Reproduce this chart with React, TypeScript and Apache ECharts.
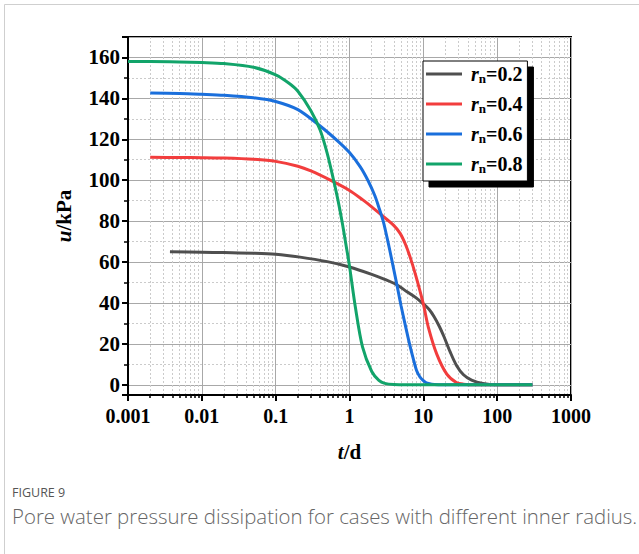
import React, { useEffect, useRef } from 'react';
import * as echarts from 'echarts';

// ---- data (t in days, u in kPa) ----
const seriesNames = ['rn=0.2', 'rn=0.4', 'rn=0.6', 'rn=0.8'];
const seriesLabels = ['0.2', '0.4', '0.6', '0.8'];
const seriesColors = ['#4f4f4f', '#f23d3d', '#1a6fdc', '#12a46a'];

const t02 = [0.0037, 0.01, 0.02, 0.05, 0.1, 0.214, 0.5, 1, 2, 3, 4.35, 6, 8, 10, 12, 14, 16.5, 19, 23, 28, 35, 45, 64, 100, 300];
const u02 = [65, 64.8, 64.6, 64.3, 63.8, 62.4, 60.2, 57.6, 54, 51.5, 48.9, 45.5, 42.5, 39.5, 36.8, 33.3, 28.5, 23.6, 16.2, 9.6, 4.9, 2.3, 0.6, 0, 0];

const t04 = [0.002, 0.005, 0.01, 0.02, 0.05, 0.1, 0.2, 0.3, 0.55, 1, 1.5, 2, 2.86, 4, 4.85, 5.7, 6.62, 7.78, 10, 11.7, 15.2, 20.8, 28, 35, 50, 100, 300];
const u04 = [111.2, 111.1, 111, 110.8, 110.2, 109.2, 106.8, 104.5, 100, 95, 90.5, 87, 82.3, 77.8, 74, 68.8, 62.4, 54.2, 39.5, 28.1, 15, 5.2, 1.1, 0.3, 0, 0, 0];

const t06 = [0.002, 0.005, 0.01, 0.02, 0.05, 0.1, 0.2, 0.4, 0.7, 1, 1.4, 1.8, 2.2, 2.5, 2.86, 3.2, 3.5, 4.35, 5, 6, 6.6, 7.3, 8.1, 9, 10, 11, 13, 16, 20, 50, 300];
const u06 = [142.6, 142.4, 142, 141.5, 140.3, 138.5, 134.5, 126.5, 119, 113.5, 106.5, 99.5, 92.5, 86.7, 80, 72.5, 66, 49.5, 38.5, 25.5, 19, 12.8, 7, 3.8, 2, 0.9, 0.3, 0.05, 0, 0, 0];

const t08 = [0.001, 0.002, 0.005, 0.01, 0.02, 0.05, 0.1, 0.15, 0.2, 0.3, 0.4, 0.5, 0.6, 0.7, 0.8, 0.9, 1, 1.2, 1.5, 2, 2.5, 3, 4, 6, 10, 30, 100, 300];
const u08 = [158, 158, 157.8, 157.5, 157, 155.2, 151.5, 147.5, 143.5, 134, 124.5, 113, 101, 90, 79, 68, 58, 38, 18.5, 6.5, 2.2, 0.7, 0.1, 0, 0, 0, 0, 0];

const tSets = [t02, t04, t06, t08];
const uSets = [u02, u04, u06, u08];

const xTickLabels = ['0.001', '0.01', '0.1', '1', '10', '100', '1000'];
const yTickLabels = ['0', '20', '40', '60', '80', '100', '120', '140', '160'];
const minorMultipliers = [2, 3, 4, 5, 6, 7, 8, 9];
const decades = [0.001, 0.01, 0.1, 1, 10, 100];

const serif = "'Liberation Serif', 'Times New Roman', serif";
const sans = "'Open Sans', 'Noto Sans', sans-serif";

export default function App() {
  const ref = useRef<HTMLDivElement>(null);

  useEffect(() => {
    const chart = echarts.init(ref.current!, null, { renderer: 'svg' });

    const minorX: number[] = [];
    decades.forEach((d) => minorMultipliers.forEach((m) => minorX.push(Number((d * m).toPrecision(6)))));

    const fmtX = (v: number) => {
      const s = String(Number(Number(v).toPrecision(6)));
      return xTickLabels.includes(s) ? s : '';
    };
    const fmtY = (v: number) => (yTickLabels.includes(String(v)) ? String(v) : '');

    const legendRich = {
      i: { fontFamily: serif, fontStyle: 'italic', fontWeight: 'bold', fontSize: 20, lineHeight: 22, color: '#000', padding: [0, 0, 0, 4] },
      s: { fontFamily: serif, fontWeight: 'bold', fontSize: 13, lineHeight: 13, verticalAlign: 'bottom', color: '#000' },
      b: { fontFamily: serif, fontWeight: 'bold', fontSize: 20, lineHeight: 22, color: '#000' },
    };

    chart.setOption({
      animation: false,
      backgroundColor: '#fff',
      grid: {
        left: 128, top: 37, right: 68, bottom: 159,
        show: true, borderColor: '#000', borderWidth: 2, backgroundColor: 'transparent',
      },
      xAxis: [
        {
          type: 'log', logBase: 10, min: 0.001, max: 1000, splitNumber: 6, position: 'bottom',
          axisLine: { show: true, onZero: false, lineStyle: { color: '#000', width: 2 } },
          axisTick: { show: true, inside: false, length: 6, lineStyle: { color: '#000', width: 2 } },
          axisLabel: { margin: 11, fontFamily: serif, fontWeight: 'bold', fontSize: 20, color: '#000', formatter: fmtX },
          splitLine: { show: true, lineStyle: { color: '#a8a8a8', width: 1 } },
          name: '{i|t}{b|/d}', nameLocation: 'middle', nameGap: 46,
          nameTextStyle: {
            rich: {
              i: { fontFamily: serif, fontStyle: 'italic', fontWeight: 'bold', fontSize: 21, color: '#000' },
              b: { fontFamily: serif, fontWeight: 'bold', fontSize: 21, color: '#000' },
            },
          },
        },
        {
          type: 'log', logBase: 10, min: 0.001, max: 1000, position: 'bottom',
          axisLine: { show: false, onZero: false },
          axisTick: { show: true, inside: false, length: 3, customValues: minorX, lineStyle: { color: '#000', width: 1.5 } },
          axisLabel: { show: false },
          splitLine: { show: true, lineStyle: { color: '#cbcbcb', width: 1, type: [2, 2] } },
        },
      ],
      yAxis: [
        {
          type: 'value', min: -5, max: 170, splitNumber: 9, position: 'left',
          axisLine: { show: true, onZero: false, lineStyle: { color: '#000', width: 2 } },
          axisTick: { show: true, inside: false, length: 6, lineStyle: { color: '#000', width: 2 } },
          minorTick: { show: true, splitNumber: 2, length: 4, lineStyle: { color: '#000', width: 1.5 } },
          minorSplitLine: { show: true, lineStyle: { color: '#cbcbcb', width: 1, type: [2, 2] } },
          splitLine: { show: true, lineStyle: { color: '#a8a8a8', width: 1 } },
          axisLabel: { margin: 8, fontFamily: serif, fontWeight: 'bold', fontSize: 21, color: '#000', formatter: fmtY },
          name: '{i|u}{b|/kPa}', nameLocation: 'middle', nameGap: 54, nameRotate: 90,
          nameTextStyle: {
            rich: {
              i: { fontFamily: serif, fontStyle: 'italic', fontWeight: 'bold', fontSize: 21, color: '#000' },
              b: { fontFamily: serif, fontWeight: 'bold', fontSize: 21, color: '#000' },
            },
          },
        },
      ],
      legend: {
        orient: 'vertical', left: 423, top: 61,
        itemWidth: 36, itemHeight: 3, icon: 'rect', itemGap: 9,
        padding: [3, 5, 6, 3],
        backgroundColor: '#fff', borderColor: '#000', borderWidth: 1,
        shadowColor: '#000', shadowBlur: 0, shadowOffsetX: 6, shadowOffsetY: 6,
        z: 10,
        data: seriesNames,
        formatter: (name: string) => {
          const idx = seriesNames.indexOf(name);
          return `{i|r}{s|n}{b|=${seriesLabels[idx]}}`;
        },
        textStyle: { rich: legendRich },
      },
      graphic: [
        { type: 'line', silent: true, shape: { x1: 4.5, y1: 4.5, x2: 639, y2: 4.5 }, style: { stroke: '#cfcfcf', lineWidth: 1 } },
        { type: 'line', silent: true, shape: { x1: 4.5, y1: 4.5, x2: 4.5, y2: 554 }, style: { stroke: '#cfcfcf', lineWidth: 1 } },
        { type: 'text', left: 12, top: 486, style: { text: 'FIGURE 9', fontSize: 12.5, fill: '#555', fontFamily: sans } },
        { type: 'text', left: 12, top: 506, style: { text: 'Pore water pressure dissipation for cases with different inner radius.', fontSize: 20.4, fontWeight: 300, fill: '#666', fontFamily: sans } },
      ],
      series: seriesNames.map((name, i) => ({
        name,
        type: 'line',
        xAxisIndex: 0,
        yAxisIndex: 0,
        data: tSets[i].map((t, j) => [t, uSets[i][j]]),
        showSymbol: false,
        symbol: 'none',
        smooth: 0.3,
        color: seriesColors[i],
        lineStyle: { color: seriesColors[i], width: 3 },
        z: 3,
      })),
    });

    return () => chart.dispose();
  }, []);

  return (
    <div
      ref={ref}
      style={{ position: 'absolute', left: 0, top: 0, width: 639, height: 554, background: '#fff' }}
    />
  );
}
